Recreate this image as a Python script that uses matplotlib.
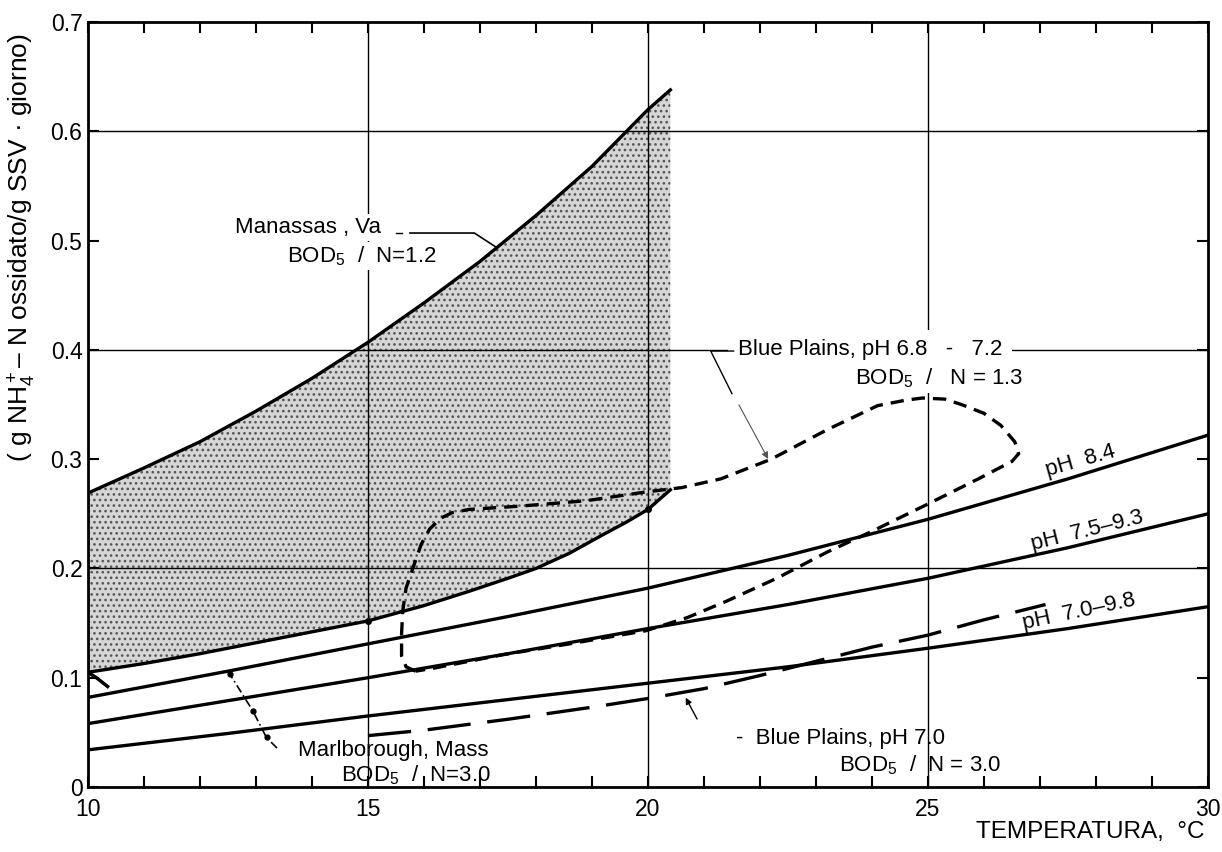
import matplotlib

matplotlib.use("Agg")
import matplotlib.pyplot as plt
from matplotlib.ticker import MultipleLocator

plt.rcParams["font.family"] = ["Liberation Sans", "DejaVu Sans"]
plt.rcParams["mathtext.fontset"] = "custom"
plt.rcParams["mathtext.rm"] = "Liberation Sans"
plt.rcParams["mathtext.it"] = "Liberation Sans"
plt.rcParams["mathtext.bf"] = "Liberation Sans"
plt.rcParams["hatch.linewidth"] = 1.1

# Manassas, Va (BOD5/N = 1.2): upper and lower edge of the shaded band
manassas_up_x = [10, 11, 12, 13, 14, 15, 16, 17, 18, 19, 20, 20.4]
manassas_up_y = [0.269, 0.292, 0.316, 0.344, 0.374, 0.407, 0.443, 0.481, 0.523, 0.568, 0.620, 0.638]
manassas_lo_x = [10, 11, 12, 13, 14, 15, 16, 16.8, 17.5, 18, 18.6, 19.2, 19.6, 20, 20.4]
manassas_lo_y = [0.105, 0.113, 0.122, 0.132, 0.142, 0.152, 0.166, 0.179, 0.191, 0.200,
                 0.214, 0.231, 0.242, 0.254, 0.272]

# Marlborough, Mass (BOD5/N = 3.0)
ph_x = [10, 12.5, 15, 17.5, 20, 22.5, 25, 27.5, 30]
ph84_y = [0.082, 0.106, 0.131, 0.156, 0.182, 0.212, 0.245, 0.282, 0.322]
ph75_y = [0.058, 0.079, 0.100, 0.122, 0.145, 0.167, 0.191, 0.219, 0.250]
ph70_y = [0.034, 0.049, 0.065, 0.080, 0.095, 0.110, 0.127, 0.145, 0.165]

# Blue Plains pH 6.8-7.2 (BOD5/N = 1.3), closed loop
bp68_x = [15.85, 15.68, 15.6, 15.6, 15.62, 15.68, 15.8, 15.95, 16.1, 16.3, 16.5,
          16.8, 17.7, 18.9, 19.96, 20.6, 21.3, 22.2, 23.2, 24.1, 24.6, 24.9,
          25.3, 25.6, 26.0, 26.3, 26.55, 26.62, 26.5, 25.9, 24.96, 24.0, 23.2,
          22.3, 21.4, 20.7, 19.96, 18.6, 17.4, 16.2, 15.85]
bp68_y = [0.106, 0.110, 0.120, 0.140, 0.161, 0.182, 0.200, 0.222, 0.236, 0.246,
          0.251, 0.254, 0.257, 0.262, 0.270, 0.274, 0.282, 0.300, 0.327, 0.349,
          0.354, 0.356, 0.355, 0.350, 0.342, 0.331, 0.316, 0.305, 0.298, 0.282,
          0.258, 0.234, 0.215, 0.191, 0.170, 0.155, 0.143, 0.131, 0.121, 0.109,
          0.106]

# Blue Plains pH 7.0 (BOD5/N = 3.0)
bp70_x = [15, 16, 17.5, 19, 20, 21, 22, 23, 24, 25, 26, 27.1]
bp70_y = [0.047, 0.052, 0.062, 0.073, 0.081, 0.090, 0.102, 0.115, 0.128, 0.139, 0.153, 0.167]

fig = plt.figure(figsize=(12.22, 8.52), dpi=100)
ax = fig.add_axes([0.072, 0.0763, 0.9165, 0.8977])
ax.set_xlim(10, 30)
ax.set_ylim(0, 0.7)

# thin grid only at the main divisions
for gx in (15, 20, 25):
    ax.axvline(gx, color="black", lw=1.0, zorder=1)
for gy in (0.2, 0.4, 0.6):
    ax.axhline(gy, color="black", lw=1.0, zorder=1)

# shaded Manassas band
ax.fill(manassas_up_x + manassas_lo_x[::-1], manassas_up_y + manassas_lo_y[::-1],
        facecolor="#d6d6d6", edgecolor="#555555", hatch="...", lw=0, zorder=0.5)
ax.plot(manassas_up_x, manassas_up_y, color="black", lw=2.4, zorder=3)
ax.plot(manassas_lo_x, manassas_lo_y, color="black", lw=2.4, zorder=3)

for ys in (ph84_y, ph75_y, ph70_y):
    ax.plot(ph_x, ys, color="black", lw=2.4, zorder=3)

loop, = ax.plot(bp68_x, bp68_y, color="black", lw=2.4, zorder=4)
loop.set_dashes((4, 2.4))
long_dash, = ax.plot(bp70_x, bp70_y, color="black", lw=2.4, zorder=4)
long_dash.set_dashes((13, 5))

# little blob at the start of the band
ax.plot([10.0, 10.15, 10.35], [0.105, 0.1, 0.092], color="black", lw=2.5, zorder=5)
ax.plot([15.0, 20.0], [0.152, 0.254], "o", ms=4, color="black", zorder=5)

# annotations
box = dict(facecolor="white", edgecolor="none", pad=2)
txt_kw = dict(fontsize=16, color="black", zorder=6)

ax.text(12.62, 0.512, "Manassas , Va", ha="left", va="center", bbox=box, **txt_kw)
ax.text(13.55, 0.486, "BOD$_5$  /  N=1.2", ha="left", va="center", bbox=box, **txt_kw)
ax.plot([15.5, 15.6], [0.507, 0.507], color="black", lw=1.0, zorder=5)
ax.plot([15.75, 16.9, 17.29], [0.507, 0.507, 0.494], color="black", lw=1.2, zorder=5)

ax.text(21.6, 0.400, "Blue Plains, pH 6.8   -   7.2", ha="left", va="center",
        bbox=dict(facecolor="white", edgecolor="none", pad=7), **txt_kw)
ax.text(26.7, 0.374, "BOD$_5$  /   N = 1.3", ha="right", va="center", bbox=box, **txt_kw)
ax.plot([21.53, 21.12, 21.5], [0.399, 0.399, 0.36], color="black", lw=1.0, zorder=7)
ax.annotate("", xy=(22.17, 0.298), xytext=(21.6, 0.352),
            arrowprops=dict(arrowstyle="-|>", color="#555555", lw=0.8,
                            mutation_scale=10), zorder=5)

ax.text(27.72, 0.298, "pH  8.4", rotation=16, ha="center", va="center",
        rotation_mode="anchor", **txt_kw)
ax.text(27.85, 0.234, "pH  7.5\u20139.3", rotation=14, ha="center", va="center",
        rotation_mode="anchor", **txt_kw)
ax.text(27.7, 0.160, "pH  7.0\u20139.8", rotation=12, ha="center", va="center",
        rotation_mode="anchor", **txt_kw)

ax.text(25.31, 0.044, "-  Blue Plains, pH 7.0", ha="right", va="center", **txt_kw)
ax.text(26.31, 0.020, "BOD$_5$  /  N = 3.0", ha="right", va="center", **txt_kw)
ax.annotate("", xy=(20.65, 0.084), xytext=(20.9, 0.06),
            arrowprops=dict(arrowstyle="-|>", color="black", lw=1.0,
                            mutation_scale=9), zorder=5)

ax.text(15.45, 0.033, "Marlborough, Mass", ha="center", va="center", **txt_kw)
ax.text(15.85, 0.011, "BOD$_5$  /  N=3.0", ha="center", va="center", **txt_kw)
ax.plot([12.5, 12.94, 13.19, 13.39], [0.106, 0.070, 0.045, 0.035],
        color="black", lw=1.2, ls=(0, (5, 2, 1, 2)), zorder=5)
for px, py in ((12.53, 0.103), (12.94, 0.070), (13.19, 0.046)):
    ax.plot(px, py, marker="o", ms=3.5, color="black", zorder=5)

# axes styling
for sp in ax.spines.values():
    sp.set_linewidth(2.0)
ax.xaxis.set_major_locator(MultipleLocator(5))
ax.xaxis.set_minor_locator(MultipleLocator(1))
ax.yaxis.set_major_locator(MultipleLocator(0.1))
ax.tick_params(which="both", direction="in", top=True, right=True, width=1.5)
ax.tick_params(which="major", length=8, labelsize=16.5, pad=8)
ax.tick_params(which="minor", length=8)
ax.set_xticks([10, 15, 20, 25, 30])
ax.set_xticklabels(["10", "15", "20", "25", "30"])
ax.set_yticks([0, 0.1, 0.2, 0.3, 0.4, 0.5, 0.6, 0.7])
ax.set_yticklabels(["0", "0.1", "0.2", "0.3", "0.4", "0.5", "0.6", "0.7"])
ax.tick_params(axis="y", pad=4)

fig.text(22 / 1222, 1 - 248 / 852,
         "( g NH$_4^+$\u2013 N ossidato/g SSV \u00b7 giorno)",
         rotation=90, ha="center", va="center", fontsize=19)
fig.text(1205 / 1222, 1 - 832 / 852, "TEMPERATURA,  \u00b0C",
         ha="right", va="center", fontsize=17.5)

fig.savefig("out.png", dpi=100, facecolor="white")
